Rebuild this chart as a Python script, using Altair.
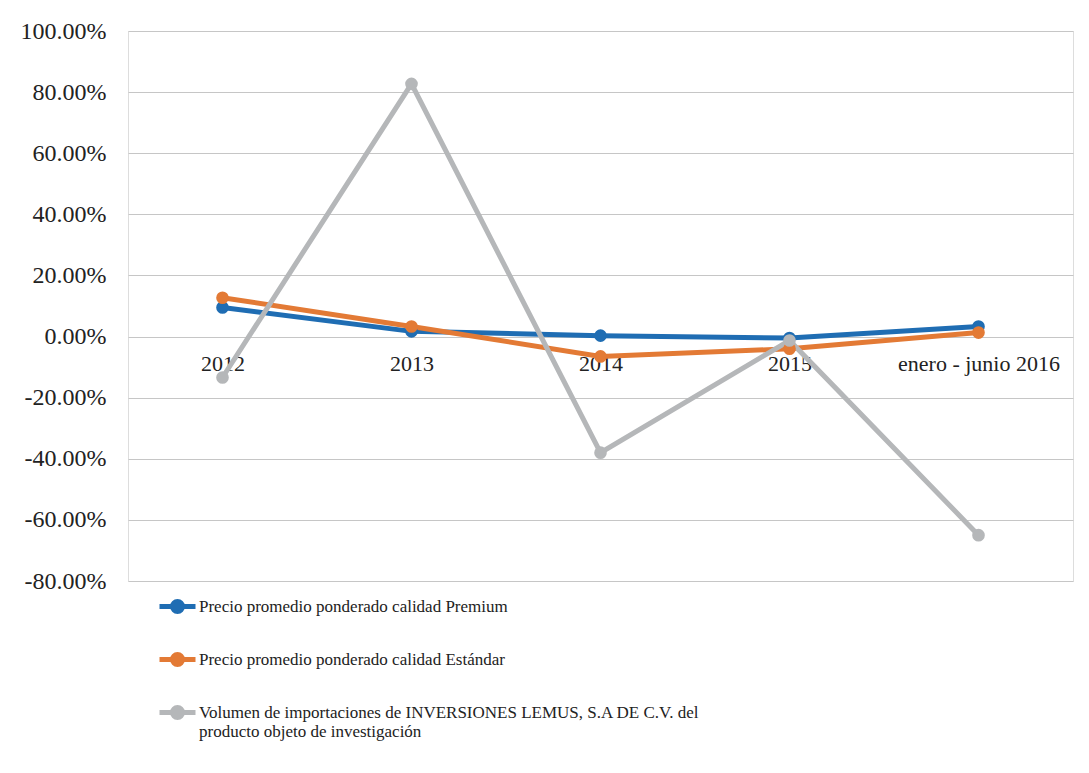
import altair as alt
import pandas as pd

categories = ["2012", "2013", "2014", "2015", "enero - junio 2016"]
series_names = [
    "Precio promedio ponderado calidad Premium",
    "Precio promedio ponderado calidad Estándar",
    "Volumen de importaciones de INVERSIONES LEMUS, S.A DE C.V. del producto objeto de investigación",
]
premium = [0.095, 0.017, 0.003, -0.005, 0.033]
estandar = [0.127, 0.033, -0.065, -0.04, 0.013]
volumen = [-0.134, 0.827, -0.38, -0.013, -0.65]
colors = ["#1f6db3", "#e37a35", "#b5b7b9"]
line_widths = [5, 5, 3.8]
y_ticks = [-0.8, -0.6, -0.4, -0.2, 0.0, 0.2, 0.4, 0.6, 0.8, 1.0]
vol_lines = ["Volumen de importaciones de INVERSIONES LEMUS, S.A DE C.V. del",
             "producto objeto de investigación"]

rows = []
for name, vals in zip(series_names, [premium, estandar, volumen]):
    for c, v in zip(categories, vals):
        rows.append({"cat": c, "val": v, "series": name})
df = pd.DataFrame(rows)

W, H = 945, 550
y_min, y_max = -0.8, 1.0
zero_offset = -(H - H * (y_max - 0) / (y_max - y_min))

FONT = "Liberation Serif, Times New Roman, serif"
TXT = "#222222"

sym_path = "M-1,0H1M0.28,0A0.28,0.28,0,1,1,-0.28,0A0.28,0.28,0,1,1,0.28,0Z"
label_expr = (
    "datum.label == '" + series_names[2] + "' ? ['" + vol_lines[0] + "', '" + vol_lines[1] + "'] : datum.label"
)

legend = alt.Legend(
    title=None, orient="none", legendX=29, legendY=555, direction="vertical",
    symbolType=sym_path, symbolSize=1296, symbolStrokeWidth=4, symbolOpacity=1,
    labelFont=FONT, labelFontSize=17, labelColor=TXT, labelLimit=1000,
    rowPadding=17, padding=0, labelOffset=1, labelExpr=label_expr,
)
scale = alt.Scale(domain=series_names, range=colors)

base = alt.Chart(df).encode(
    x=alt.X(
        "cat:N",
        sort=categories,
        title=None,
        axis=alt.Axis(
            orient="bottom", offset=zero_offset, labelAngle=0, domain=False, ticks=False,
            labelPadding=17, labelFont=FONT, labelFontSize=22, labelColor=TXT, grid=False,
        ),
    ),
    y=alt.Y(
        "val:Q",
        title=None,
        scale=alt.Scale(domain=[y_min, y_max], nice=False, zero=False),
        axis=alt.Axis(
            values=y_ticks,
            labelExpr="replace(format(datum.value, '.2%'), '\u2212', '-')",
            grid=True, gridColor="#c6c6c6", gridWidth=1, domain=False, ticks=False,
            labelPadding=22, labelFont=FONT, labelFontSize=24, labelColor=TXT,
        ),
    ),
)

lines = base.mark_line().encode(
    stroke=alt.Stroke("series:N", sort=series_names, scale=scale, legend=legend),
    strokeWidth=alt.StrokeWidth(
        "series:N", scale=alt.Scale(domain=series_names, range=line_widths), legend=None
    ),
)
points = base.mark_circle(size=160, opacity=1).encode(
    fill=alt.Fill("series:N", sort=series_names, scale=scale, legend=legend)
)

chart = (
    alt.layer(lines, points)
    .properties(width=W, height=H, padding={"left": 12, "top": 11, "right": 5, "bottom": 5})
    .configure_view(stroke=None)
    .configure_axis(labelFont=FONT, labelColor=TXT)
    .configure(background="white", font=FONT)
)

chart.save("out.html", embed_options={"renderer": "svg", "actions": False})
